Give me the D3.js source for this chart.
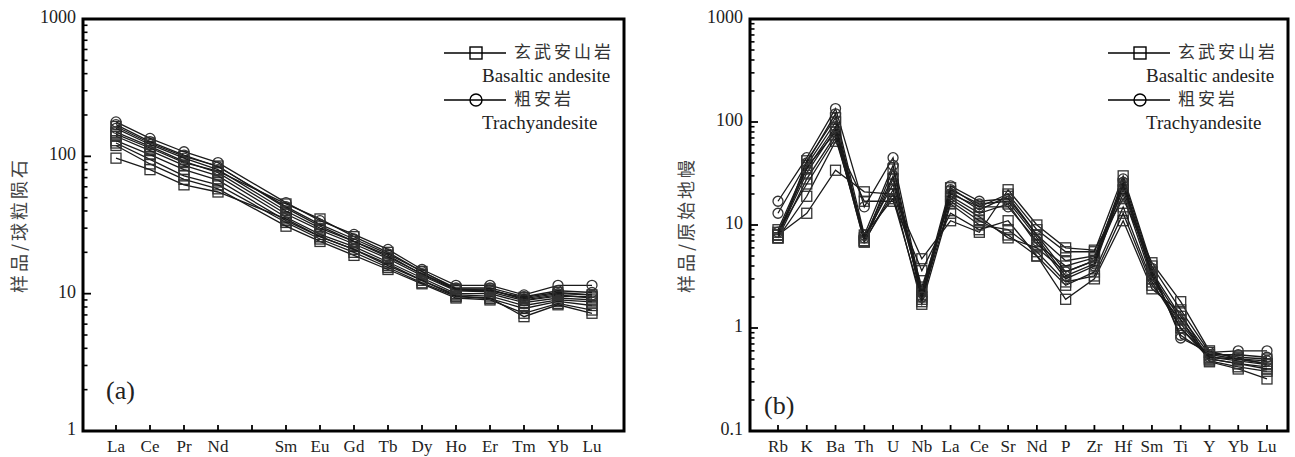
<!DOCTYPE html>
<html><head><meta charset="utf-8">
<script src="https://cdn.jsdelivr.net/npm/d3@7"></script>
<style>
html,body{margin:0;padding:0;background:#fff;}
svg{display:block;}
</style></head>
<body>
<svg id="chart" width="1295" height="457"></svg>
<script>
// ---------- DATA ----------
const reeElements = ["La","Ce","Pr","Nd","Pm","Sm","Eu","Gd","Tb","Dy","Ho","Er","Tm","Yb","Lu"];
const reeUsed = ["La","Ce","Pr","Nd","Sm","Eu","Gd","Tb","Dy","Ho","Er","Tm","Yb","Lu"];
const reeTicksY = [1,10,100,1000];
// basaltic andesite (squares)
const reeBasaltic = [
  [150,118,92,76,38,29,23,18,13.5,10.5,10.3,8.9,9.6,9.5],
  [140,110,86,72,36,27,22,17,13,10,10,8.6,9.3,9.0],
  [130,103,80,67,34,26,21,16.5,12.5,9.8,9.6,8.2,9.0,8.7],
  [165,125,100,85,42,31,24,19,13.8,10.6,10.5,9.4,10.2,9.8],
  [125,95,72,62,33,25,20,15.5,12,9.5,9.2,7.8,8.8,8.2],
  [120,88,68,58,31,24,19,15,11.8,9.3,9.0,7.2,8.5,7.6],
  [97,80,62,55,35,26,21,16,12.5,9.6,9.3,6.8,8.3,7.2],
  [145,115,90,78,45,35,26,20,14.5,10.8,10.8,9.0,9.8,9.3]
];
// trachyandesite (circles)
const reeTrachy = [
  [178,135,108,90,46,34,27,21,15,11.5,11.5,9.8,11.5,11.5],
  [170,128,102,84,43,32,25,19.5,14.5,11,11,9.5,10.5,10.2],
  [160,122,97,80,40,30,24,18.5,14,10.8,10.6,9.2,10,9.8]
];

const pmElements = ["Rb","K","Ba","Th","U","Nb","La","Ce","Sr","Nd","P","Zr","Hf","Sm","Ti","Y","Yb","Lu"];
const pmTicksY = [0.1,1,10,100,1000];
const pmBasaltic = [
  [8,13,34,21,20,4.7,11,8.5,22,10,6,5.7,18,4.3,1.8,0.6,0.5,0.45],
  [7.5,19,65,17,17,3.6,13,9,11,5,1.9,3.0,11,2.4,1.4,0.47,0.4,0.32],
  [7.5,28,75,7,20,1.7,16,10,9,5.5,2.8,3.2,13,2.6,1.2,0.48,0.42,0.38],
  [8,32,85,7.5,25,2.5,18,12,7.5,6,3.5,4.5,20,3,1.1,0.5,0.45,0.42],
  [9,38,100,7,28,2.0,21,14,19,8,4.5,5,25,3.5,1.3,0.55,0.5,0.45],
  [7.5,42,110,7,35,1.8,23,15,20,9,5.5,5.5,30,4,1.5,0.58,0.52,0.5],
  [8,36,80,6.8,22,2.3,19,13,16,6.5,4,4.8,22,3.3,1.2,0.52,0.48,0.44],
  [8.5,25,70,8,18,1.9,17,11,8,5,2.6,3.5,15,2.8,1.0,0.5,0.45,0.4]
];
const pmTrachy = [
  [17,45,135,15,45,2.2,24,17,18,8,3.5,4.5,28,3.8,0.8,0.58,0.6,0.6],
  [13,40,120,8,38,2.0,22,16,17,7.5,3.2,4.2,26,3.5,0.85,0.55,0.55,0.52],
  [8.5,35,90,7.5,30,2.0,20,15,15,7,3,4,24,3.2,1.0,0.52,0.5,0.48]
];

const legendNames = [["玄武安山岩","Basaltic andesite"],["粗安岩","Trachyandesite"]];
const yTitles = ["样品/球粒陨石","样品/原始地幔"];
const panelLabels = ["(a)","(b)"];

// ---------- DRAW ----------
const svg = d3.select("#chart");
const serif = "'Liberation Serif','DejaVu Serif',serif";
const cjk = "'Noto Sans CJK SC','Noto Sans CJK JP',sans-serif";

function panel(cfg){
  const {left,right,top,bottom,cats,used,ticksY,sets,ytitle,label,labelPos,xr} = cfg;
  const g = svg.append("g");
  const x = d3.scalePoint().domain(cats).range(xr);
  const y = d3.scaleLog().domain([ticksY[0], ticksY[ticksY.length-1]]).range([bottom, top]);

  // lines + markers
  const line = d3.line().x(d=>x(d.k)).y(d=>y(d.v));
  sets.forEach(s=>{
    s.data.forEach(row=>{
      const pts = used.map((k,i)=>({k, v: row[i]}));
      g.append("path").attr("d", line(pts)).attr("fill","none")
        .attr("stroke","#1a1a1a").attr("stroke-width",1.3);
      pts.forEach(p=>{
        if(s.shape==="square"){
          g.append("rect").attr("x",x(p.k)-5).attr("y",y(p.v)-5).attr("width",10).attr("height",10)
            .attr("fill","none").attr("stroke","#333").attr("stroke-width",1.3);
        } else {
          g.append("circle").attr("cx",x(p.k)).attr("cy",y(p.v)).attr("r",5)
            .attr("fill","none").attr("stroke","#333").attr("stroke-width",1.3);
        }
      });
    });
  });

  // frame
  g.append("rect").attr("x",left).attr("y",top).attr("width",right-left).attr("height",bottom-top)
    .attr("fill","none").attr("stroke","#000").attr("stroke-width",3);

  // y axis ticks (inward)
  const lo = Math.log10(ticksY[0]), hi = Math.log10(ticksY[ticksY.length-1]);
  for(let e=lo;e<hi;e++){
    for(let m=2;m<10;m++){
      const v = m*Math.pow(10,e);
      g.append("line").attr("x1",left).attr("x2",left+4.5).attr("y1",y(v)).attr("y2",y(v))
        .attr("stroke","#000").attr("stroke-width",1.6);
    }
  }
  ticksY.forEach(v=>{
    g.append("line").attr("x1",left).attr("x2",left+8).attr("y1",y(v)).attr("y2",y(v))
      .attr("stroke","#000").attr("stroke-width",1.8);
    g.append("text").attr("x",left-7).attr("y",y(v)).attr("text-anchor","end")
      .attr("dominant-baseline","middle").attr("font-family",serif).attr("font-size",18)
      .attr("fill","#222").text(d3.format("~")(v));
  });

  // x axis ticks
  cats.forEach(k=>{
    g.append("line").attr("x1",x(k)).attr("x2",x(k)).attr("y1",bottom).attr("y2",bottom-6)
      .attr("stroke","#000").attr("stroke-width",1.8);
    if(used.includes(k)){
      g.append("text").attr("x",x(k)).attr("y",bottom+17).attr("text-anchor","middle")
        .attr("dominant-baseline","middle").attr("font-family",serif).attr("font-size",17)
        .attr("fill","#222").text(k);
    }
  });

  // y title
  g.append("text").attr("transform",`translate(${left-62},${(top+bottom)/2}) rotate(-90)`)
    .attr("text-anchor","middle").attr("dominant-baseline","middle")
    .attr("font-family",cjk).attr("font-size",18).attr("letter-spacing",3).attr("fill","#444")
    .text(ytitle);

  // panel label
  g.append("text").attr("x",labelPos[0]).attr("y",labelPos[1]).attr("font-family",serif)
    .attr("font-size",26).attr("fill","#222").text(label);

  // legend
  const lx = right-180, ly1 = top+34, ly2 = top+81;
  [[ly1,"square"],[ly2,"circle"]].forEach(([ly,shape],i)=>{
    g.append("line").attr("x1",lx).attr("x2",lx+62).attr("y1",ly).attr("y2",ly)
      .attr("stroke","#000").attr("stroke-width",1.4);
    if(shape==="square") g.append("rect").attr("x",lx+26).attr("y",ly-6).attr("width",12).attr("height",12)
      .attr("fill","none").attr("stroke","#000").attr("stroke-width",1.4);
    else g.append("circle").attr("cx",lx+32).attr("cy",ly).attr("r",6)
      .attr("fill","none").attr("stroke","#000").attr("stroke-width",1.4);
    g.append("text").attr("x",lx+70).attr("y",ly).attr("dominant-baseline","middle")
      .attr("font-family",cjk).attr("font-size",17).attr("letter-spacing",3).attr("fill","#333")
      .text(legendNames[i][0]);
    g.append("text").attr("x",right-142).attr("y",ly+25).attr("text-anchor","start").attr("dominant-baseline","middle")
      .attr("font-family",serif).attr("font-size",19).attr("fill","#222")
      .text(legendNames[i][1]);
  });
}

panel({left:83,right:624,top:19,bottom:431,cats:reeElements,used:reeUsed,ticksY:reeTicksY,
  sets:[{shape:"square",data:reeBasaltic},{shape:"circle",data:reeTrachy}],
  ytitle:yTitles[0],label:panelLabels[0],labelPos:[106,399],xr:[116,592]});
panel({left:750,right:1288,top:19,bottom:431,cats:pmElements,used:pmElements,ticksY:pmTicksY,
  sets:[{shape:"square",data:pmBasaltic},{shape:"circle",data:pmTrachy}],
  ytitle:yTitles[1],label:panelLabels[1],labelPos:[764,414],xr:[778,1267]});
</script>
</body></html>
